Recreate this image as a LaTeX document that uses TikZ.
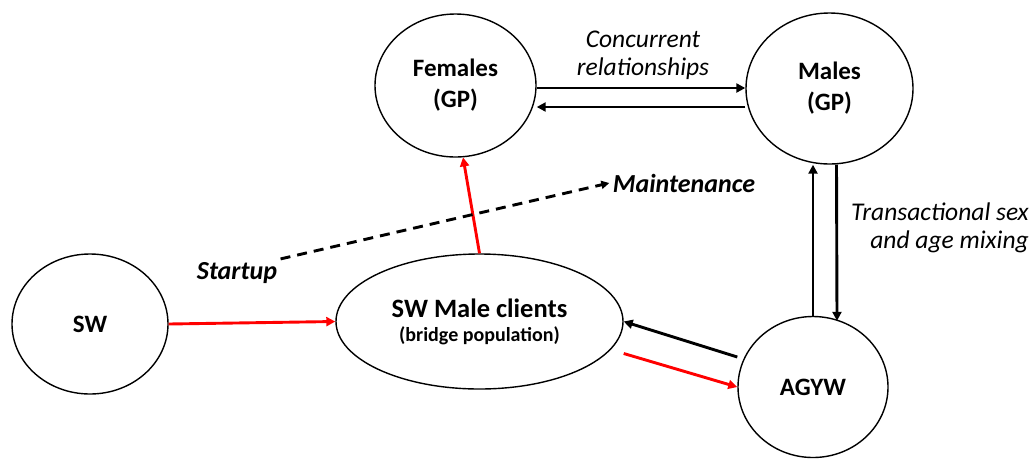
\documentclass[tikz,border=0pt]{standalone}
\usepackage{fontspec}
\setmainfont{Carlito}
\usetikzlibrary{arrows.meta,shapes.geometric,calc}

\begin{document}
\begin{tikzpicture}[x=1pt, y=-1pt,
  pop/.style={draw, ellipse, line width=1.4pt, inner sep=0pt, align=center,
    font=\fontsize{25}{31}\selectfont\bfseries},
  lab/.style={align=center, font=\fontsize{25.5}{28}\selectfont\itshape},
  phase/.style={font=\fontsize{26}{28}\selectfont\bfseries\itshape},
  blk/.style={draw, line width=2.9pt, -{Triangle[length=9pt,width=9pt]}},
  rd/.style={blk, red}]
 \useasboundingbox (0,0) rectangle (1033,459);

 %populations
 \node[pop, minimum width=161pt, minimum height=143pt] (fem) at (455.5,85.5) {Females\\(GP)};
 \node[pop, minimum width=167pt, minimum height=151pt] (mal) at (829.5,88.5) {Males\\(GP)};
 \node[pop, minimum width=156pt, minimum height=140pt] (sw) at (90,324) {SW};
 \node[pop, minimum width=287pt, minimum height=135pt, font=\fontsize{26.5}{24}\selectfont\bfseries]
   (cli) at (479.5,321.5) {SW Male clients\\{\fontsize{20}{24}\selectfont (bridge population)}};
 \node[pop, minimum width=150pt, minimum height=141pt] (agyw) at (813,387) {AGYW};

 %labels
 \node[lab] (conc) at (643,55) {Concurrent\\relationships};
 \node[lab, align=right] (trans) at (940,228) {Transactional sex\\and age mixing};
 \node[phase] (start) at (237,273) {Startup};
 \node[phase] (maint) at (684,183) {Maintenance};

 %GP links
 \path[blk] ([yshift=-2.5pt]fem.east) -- ([yshift=-2.5pt]fem.east -| mal.west);
 \path[blk] ([yshift=-18.5pt]mal.west) -- ([yshift=-18.5pt]mal.west -| fem.east);
 \path[blk] (agyw.north) -- (agyw.north |- mal.south);
 \path[blk] ($(mal.south)+(7,0)$) -- ($(agyw.north)+(24,5)$);

 %bridge
 \path[rd] (sw.east) -- (cli.west);
 \path[rd] (cli.north) -- (fem.-84);
 \path[blk] ([yshift=30pt]agyw.west) -- (cli.east);
 \path[rd] ([yshift=-32pt]cli.east) -- (agyw.west);

 %phases
 \path[draw, line width=2.9pt, dash pattern=on 10pt off 7pt, -{Triangle[length=8pt,width=8pt]}]
   (start.north east) -- (maint.west);
\end{tikzpicture}
\end{document}
